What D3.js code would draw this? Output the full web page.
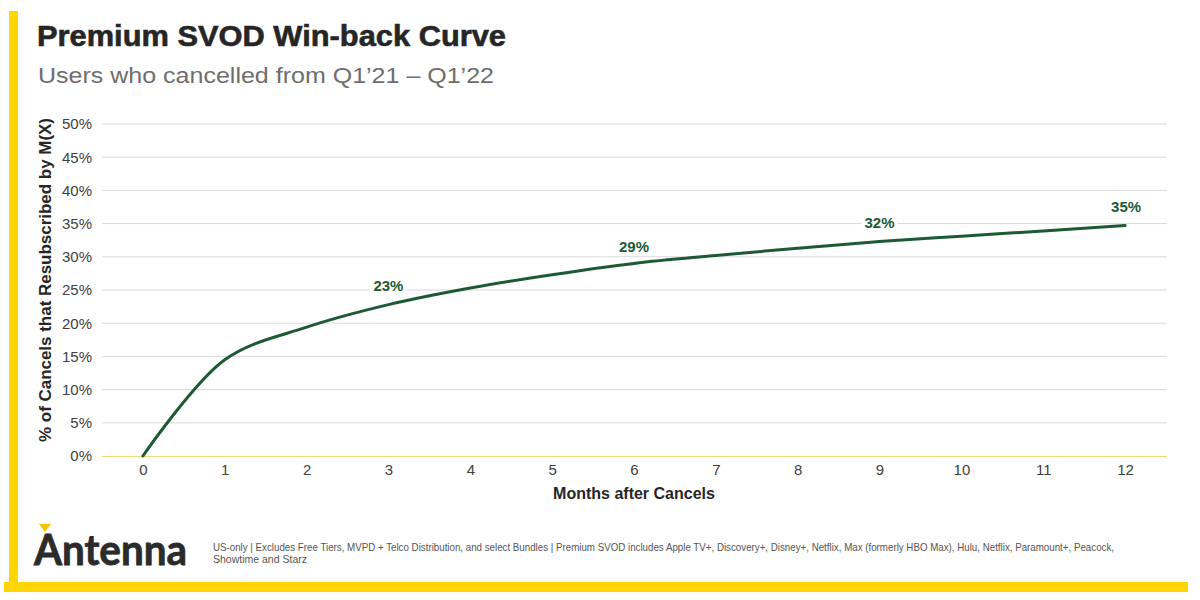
<!DOCTYPE html>
<html>
<head>
<meta charset="utf-8">
<script src="https://cdn.jsdelivr.net/npm/d3@7"></script>
<style>
  html, body { margin: 0; padding: 0; background: #fff; }
  svg { display: block; }
</style>
</head>
<body>
<svg id="chart" width="1200" height="600"></svg>
<script>
// ---- data ----
const months = [0, 1, 2, 3, 4, 5, 6, 7, 8, 9, 10, 11, 12];
const winback = [0, 14.5, 19.4, 22.8, 25.3, 27.3, 29.0, 30.2, 31.3, 32.3, 33.1, 33.9, 34.7];
const labelMonths = [3, 6, 9, 12];
const labelTexts = ["23%", "29%", "32%", "35%"];
const yTicks = [0, 5, 10, 15, 20, 25, 30, 35, 40, 45, 50];

const title = "Premium SVOD Win-back Curve";
const subtitle = "Users who cancelled from Q1\u201921 \u2013 Q1\u201922";
const yTitle = "% of Cancels that Resubscribed by M(X)";
const xTitle = "Months after Cancels";
const footnote1 = "US-only | Excludes Free Tiers, MVPD + Telco Distribution, and select Bundles | Premium SVOD includes Apple TV+, Discovery+, Disney+, Netflix, Max (formerly HBO Max), Hulu, Netflix, Paramount+, Peacock,";
const footnote2 = "Showtime and Starz";

const svg = d3.select("#chart");
const yellow = "#FFD500";
const green = "#1d5a34";
const sans = "'Liberation Sans', Arial, sans-serif";

// frame
svg.append("rect").attr("x", 9).attr("y", 11).attr("width", 9).attr("height", 581).attr("fill", yellow);
svg.append("rect").attr("x", 4).attr("y", 582).attr("width", 1184).attr("height", 10).attr("fill", yellow);

// titles
svg.append("text").attr("x", 37).attr("y", 46).text(title)
  .attr("font-family", sans).attr("font-weight", "bold").attr("font-size", 29)
  .attr("fill", "#262626").attr("stroke", "#262626").attr("stroke-width", 0.6)
  .attr("textLength", 469).attr("lengthAdjust", "spacingAndGlyphs");
svg.append("text").attr("x", 38).attr("y", 83).text(subtitle)
  .attr("font-family", sans).attr("font-size", 22).attr("fill", "#6e6e6e")
  .attr("textLength", 456).attr("lengthAdjust", "spacingAndGlyphs");

// scales
const x = d3.scalePoint().domain(months).range([102, 1166]).padding(0.5);
const y = d3.scaleLinear().domain([0, 50]).range([456, 124]);

// gridlines
const grid = svg.append("g");
grid.selectAll("line").data(yTicks.filter(d => d > 0)).join("line")
  .attr("x1", 102).attr("x2", 1167)
  .attr("y1", d => y(d)).attr("y2", d => y(d))
  .attr("stroke", "#d9d9d9").attr("stroke-width", 1);

// y axis
const yAxis = svg.append("g").attr("transform", "translate(102,0)")
  .call(d3.axisLeft(y).tickValues(yTicks).tickFormat(d => d + "%").tickSize(0).tickPadding(10));
yAxis.select(".domain").remove();
yAxis.selectAll("text").attr("font-family", sans).attr("font-size", 15).attr("fill", "#404040");

// x axis
const xAxis = svg.append("g").attr("transform", "translate(0,456)")
  .call(d3.axisBottom(x).tickSize(0).tickPadding(8));
xAxis.select(".domain").attr("stroke", "#f0dc78").attr("stroke-width", 1.2)
  .attr("d", "M102,0.5H1167");
xAxis.selectAll("text").attr("font-family", sans).attr("font-size", 15).attr("fill", "#404040");

// axis titles
svg.append("text")
  .attr("transform", "translate(51,280) rotate(-90)")
  .attr("text-anchor", "middle").text(yTitle)
  .attr("font-family", sans).attr("font-weight", "bold").attr("font-size", 16)
  .attr("fill", "#262626").attr("textLength", 324).attr("lengthAdjust", "spacingAndGlyphs");
svg.append("text").attr("x", 634).attr("y", 499).attr("text-anchor", "middle").text(xTitle)
  .attr("font-family", sans).attr("font-weight", "bold").attr("font-size", 16)
  .attr("fill", "#262626");

// line
const line = d3.line().x((d, i) => x(months[i])).y(d => y(d)).curve(d3.curveCatmullRom.alpha(0.5));
svg.append("path").datum(winback).attr("d", line)
  .attr("fill", "none").attr("stroke", green).attr("stroke-width", 3).attr("stroke-linecap", "round");

// data labels
const lbl = svg.append("g");
labelMonths.forEach((m, i) => {
  const v = winback[months.indexOf(m)];
  const cx = x(m) + (m === 12 ? 1 : 0);
  const cy = y(v) - (m === 6 ? 11 : 14);
  const t = lbl.append("text").attr("x", cx).attr("y", cy).attr("text-anchor", "middle")
    .text(labelTexts[i]).attr("font-family", sans).attr("font-weight", "bold")
    .attr("font-size", 15).attr("fill", green);
  const bb = t.node().getBBox();
  lbl.insert("rect", "text").attr("x", bb.x - 3).attr("y", bb.y).attr("width", bb.width + 6)
    .attr("height", bb.height).attr("fill", "#fff");
});

// logo
svg.append("text").attr("x", 34).attr("y", 565).text("Antenna")
  .attr("font-family", "'Lato', 'Liberation Sans', sans-serif").attr("font-weight", "bold")
  .attr("font-size", 42).attr("fill", "#2b2b2b").attr("stroke", "#2b2b2b").attr("stroke-width", 0.8)
  .attr("textLength", 153).attr("lengthAdjust", "spacingAndGlyphs");
svg.append("path").attr("d", "M39,524 L51,524 L45,532 Z").attr("fill", "#f5c400");

// footnote
svg.append("text").attr("x", 213).attr("y", 551).text(footnote1)
  .attr("font-family", sans).attr("font-size", 10.5).attr("fill", "#555")
  .attr("textLength", 901).attr("lengthAdjust", "spacingAndGlyphs");
svg.append("text").attr("x", 213).attr("y", 563).text(footnote2)
  .attr("font-family", sans).attr("font-size", 10.5).attr("fill", "#555");
</script>
</body>
</html>
